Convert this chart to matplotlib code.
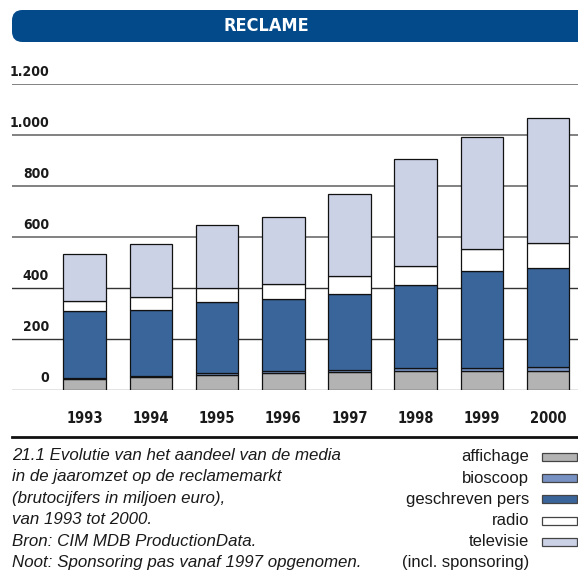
import numpy as np
import matplotlib
matplotlib.use('Agg')
import matplotlib.pyplot as plt
from matplotlib import font_manager
from matplotlib.patches import FancyBboxPatch, Rectangle

# Data (miljoen euro)
years = ['1993', '1994', '1995', '1996', '1997', '1998', '1999', '2000']
affichage = [45, 50, 57, 65, 69, 74, 75, 76]
bioscoop = [4, 4, 8, 10, 10, 12, 11, 13]
geschreven_pers = [260, 259, 280, 281, 299, 327, 382, 389]
radio = [39, 50, 55, 59, 70, 75, 85, 98]
televisie = [185, 209, 247, 262, 319, 418, 438, 489]

series_names = ['affichage', 'bioscoop', 'geschreven pers', 'radio', 'televisie']
series_colors = ['#b3b3b3', '#7691c2', '#3a659b', '#ffffff', '#cbd2e6']
ytick_values = [0, 200, 400, 600, 800, 1000, 1200]
ytick_labels = ['0', '200', '400', '600', '800', '1.000', '1.200']

caption_lines = [
    '21.1 Evolutie van het aandeel van de media',
    'in de jaaromzet op de reclamemarkt',
    '(brutocijfers in miljoen euro),',
    'van 1993 tot 2000.',
    'Bron: CIM MDB ProductionData.',
    'Noot: Sponsoring pas vanaf 1997 opgenomen.',
]

installed = {f.name for f in font_manager.fontManager.ttflist}
if 'Liberation Sans Narrow' in installed:
    narrow = dict(family='Liberation Sans Narrow')
else:
    narrow = dict(family='DejaVu Sans', stretch='condensed')
regular = 'Liberation Sans' if 'Liberation Sans' in installed else 'DejaVu Sans'

W, H = 578, 583
fig = plt.figure(figsize=(W / 100, H / 100), dpi=100)


def fx(px):
    return px / W


def fy(py):
    return 1 - py / H


# title banner
banner = FancyBboxPatch((fx(12), fy(42)), fx(600) - fx(12), fy(10) - fy(42),
                        boxstyle='round,pad=0,rounding_size=0.018',
                        transform=fig.transFigure, facecolor='#024a8a',
                        edgecolor='none')
fig.patches.append(banner)
fig.text(fx(266), fy(26), 'RECLAME', color='white', fontsize=13,
         fontweight='bold', ha='center', va='center', **narrow)

# chart axes: value 0 at y=390px, 1200 at y=84px
x0, x1 = 12, 578
ax = fig.add_axes([fx(x0), fy(390), fx(x1) - fx(x0), fy(84) - fy(390)])
step, first = 66.2, 84.7
ax.set_xlim((x0 - first) / step, (x1 - first) / step)
ax.set_ylim(0, 1200)
for s in ax.spines.values():
    s.set_visible(False)

for v in ytick_values:
    ax.axhline(v, color='#333333' if v in (200, 400) else '#777777',
               lw=1.3 if v > 400 else 1.0, zorder=1)

x = np.arange(len(years))
bottom = np.zeros(len(years))
all_series = [affichage, bioscoop, geschreven_pers, radio, televisie]
for vals, col in zip(all_series, series_colors):
    ax.bar(x, vals, width=0.645, bottom=bottom, color=col,
           edgecolor='#111111', linewidth=0.9, zorder=2)
    bottom += np.array(vals)

ax.set_xticks(x)
ax.set_xticklabels(years, fontsize=10.5, fontweight='bold', color='#1a1a1a',
                   **narrow)
ax.tick_params(axis='x', length=0, pad=15)
ax.set_yticks([])

# y labels sit above their gridline, right aligned
ylab_x = (49 - first) / step
for v, lab in zip(ytick_values, ytick_labels):
    ax.annotate(lab, (ylab_x, v), xytext=(0, 3.5), textcoords='offset points',
                ha='right', va='bottom', fontsize=10, fontweight='bold',
                color='#1a1a1a', annotation_clip=False, **narrow)

# separator line
fig.add_artist(plt.Line2D([fx(12), fx(578)], [fy(437), fy(437)],
                          color='#111111', lw=2))

# caption
for i, line in enumerate(caption_lines):
    fig.text(fx(12), fy(455 + i * 21.6), line, fontsize=12.2, style='italic',
             family=regular, color='#1a1a1a', ha='left', va='center')

# legend
for i, (name, col) in enumerate(zip(series_names, series_colors)):
    yc = 457 + i * 21.2
    fig.text(fx(529), fy(yc), name, fontsize=12, family=regular,
             color='#1a1a1a', ha='right', va='center')
    fig.patches.append(Rectangle((fx(542), fy(yc + 4)), fx(35), fy(0) - fy(8),
                                 transform=fig.transFigure, facecolor=col,
                                 edgecolor='#444444', lw=0.9))
fig.text(fx(529), fy(563), '(incl. sponsoring)', fontsize=12, family=regular,
         color='#1a1a1a', ha='right', va='center')

plt.savefig('out.png', dpi=100)
plt.close()
